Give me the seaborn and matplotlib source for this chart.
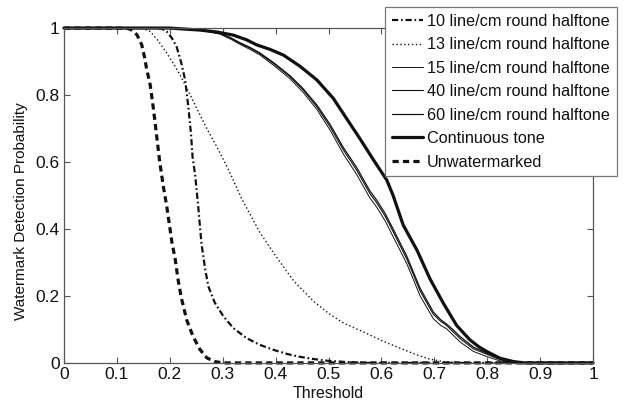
import matplotlib
matplotlib.use('Agg')
import matplotlib.pyplot as plt
import seaborn as sns
from matplotlib.ticker import FormatStrFormatter, MultipleLocator

# Data
unwm_x = [0.0, 0.10, 0.120, 0.128, 0.138, 0.147, 0.152, 0.156, 0.163, 0.169, 0.175, 0.181, 0.188,
          0.194, 0.200, 0.204, 0.210, 0.216, 0.222, 0.232, 0.244, 0.257, 0.270, 0.285, 0.300, 1.0]
unwm_y = [1.0, 1.0, 0.999, 0.994, 0.980, 0.950, 0.915, 0.880, 0.830, 0.760, 0.680, 0.600, 0.525,
          0.470, 0.405, 0.360, 0.312, 0.245, 0.193, 0.128, 0.079, 0.040, 0.015, 0.004, 0.0, 0.0]

l10_x = [0.0, 0.17, 0.185, 0.194, 0.204, 0.213, 0.222, 0.229, 0.235, 0.240, 0.243, 0.248, 0.251,
         0.254, 0.257, 0.260, 0.267, 0.273, 0.285, 0.301, 0.320, 0.345, 0.370, 0.396, 0.421,
         0.443, 0.470, 0.493, 0.530, 0.570, 1.0]
l10_y = [1.0, 1.0, 0.998, 0.990, 0.970, 0.944, 0.894, 0.845, 0.765, 0.685, 0.616, 0.560, 0.511,
         0.462, 0.407, 0.355, 0.278, 0.228, 0.180, 0.140, 0.104, 0.074, 0.054, 0.039, 0.027,
         0.019, 0.012, 0.007, 0.003, 0.0, 0.0]

l13_x = [0.0, 0.13, 0.150, 0.163, 0.178, 0.194, 0.210, 0.222, 0.238, 0.254, 0.270, 0.289, 0.310,
         0.336, 0.370, 0.402, 0.434, 0.471, 0.500, 0.525, 0.541, 0.572, 0.604, 0.635, 0.667,
         0.692, 0.720, 0.750, 1.0]
l13_y = [1.0, 1.0, 0.998, 0.990, 0.962, 0.926, 0.886, 0.852, 0.802, 0.750, 0.700, 0.645, 0.580,
         0.490, 0.390, 0.315, 0.245, 0.185, 0.148, 0.122, 0.110, 0.088, 0.064, 0.044, 0.024,
         0.011, 0.003, 0.0, 0.0]

cont_x = [0.0, 0.20, 0.257, 0.290, 0.320, 0.345, 0.364, 0.390, 0.415, 0.446, 0.478, 0.509, 0.534,
          0.560, 0.585, 0.610, 0.622, 0.641, 0.667, 0.692, 0.717, 0.742, 0.767, 0.785, 0.799,
          0.824, 0.849, 0.870, 1.0]
cont_y = [1.0, 1.0, 0.994, 0.988, 0.979, 0.965, 0.950, 0.936, 0.919, 0.886, 0.845, 0.790, 0.730,
          0.668, 0.606, 0.546, 0.500, 0.412, 0.337, 0.250, 0.178, 0.112, 0.069, 0.047, 0.034,
          0.014, 0.004, 0.0, 0.0]

thin_x = [0.0, 0.20, 0.260, 0.295, 0.315, 0.333, 0.352, 0.370, 0.396, 0.427, 0.452, 0.478, 0.503,
          0.528, 0.553, 0.578, 0.591, 0.607, 0.622, 0.648, 0.673, 0.698, 0.712, 0.723, 0.736,
          0.749, 0.774, 0.799, 0.824, 0.850, 1.0]
l40_y = [1.0, 1.0, 0.994, 0.984, 0.970, 0.954, 0.940, 0.924, 0.894, 0.855, 0.815, 0.765, 0.705,
         0.636, 0.576, 0.506, 0.478, 0.438, 0.392, 0.310, 0.215, 0.145, 0.124, 0.112, 0.092,
         0.072, 0.042, 0.026, 0.010, 0.0, 0.0]
l60_y = [1.0, 1.0, 0.994, 0.984, 0.971, 0.956, 0.942, 0.926, 0.897, 0.858, 0.819, 0.770, 0.712,
         0.643, 0.584, 0.514, 0.486, 0.446, 0.400, 0.318, 0.223, 0.152, 0.129, 0.116, 0.098,
         0.078, 0.047, 0.029, 0.012, 0.0, 0.0]
l15_y = [1.0, 1.0, 0.993, 0.982, 0.967, 0.951, 0.936, 0.920, 0.889, 0.849, 0.808, 0.757, 0.695,
         0.624, 0.563, 0.493, 0.465, 0.424, 0.377, 0.296, 0.200, 0.132, 0.112, 0.102, 0.082,
         0.062, 0.034, 0.019, 0.006, 0.0, 0.0]

labels = ['10 line/cm round halftone', '13 line/cm round halftone', '15 line/cm round halftone',
          '40 line/cm round halftone', '60 line/cm round halftone', 'Continuous tone', 'Unwatermarked']

sns.set_style('ticks')
plt.rcParams['font.family'] = ['Liberation Sans', 'DejaVu Sans']
plt.rcParams['lines.scale_dashes'] = False

fig = plt.figure(figsize=(6.27, 4.01), dpi=100)
ax = fig.add_axes([0.102, 0.095, 0.844, 0.835])

ink = '#111111'
series = [
    (l10_x, l10_y, labels[0], 1.6, (0, (4.5, 2, 1.2, 2))),
    (l13_x, l13_y, labels[1], 1.0, (0, (1, 1.8))),
    (thin_x, l15_y, labels[2], 0.7, '-'),
    (thin_x, l40_y, labels[3], 0.8, '-'),
    (thin_x, l60_y, labels[4], 0.9, '-'),
    (cont_x, cont_y, labels[5], 2.3, '-'),
    (unwm_x, unwm_y, labels[6], 2.3, (0, (4.5, 3))),
]
for xs, ys, lab, lw, ls in series:
    sns.lineplot(x=xs, y=ys, ax=ax, color=ink, linewidth=lw, linestyle=ls,
                 label=lab, estimator=None, sort=False, clip_on=False)

ax.set_xlim(0, 1)
ax.set_ylim(0, 1)
ax.xaxis.set_major_locator(MultipleLocator(0.1))
ax.yaxis.set_major_locator(MultipleLocator(0.2))
ax.xaxis.set_major_formatter(FormatStrFormatter('%g'))
ax.yaxis.set_major_formatter(FormatStrFormatter('%g'))
ax.tick_params(direction='in', top=True, right=True, length=4, width=0.8,
               color='#555555', labelsize=12.5, pad=3, labelcolor=ink)
for s in ax.spines.values():
    s.set_color('#555555')
    s.set_linewidth(0.9)

ax.set_xlabel('Threshold', fontsize=11.5, color=ink, labelpad=3)
ax.set_ylabel('Watermark Detection Probability', fontsize=11, color=ink)
ax.yaxis.set_label_coords(-0.068, 0.452)

leg = ax.legend(loc='upper left', bbox_to_anchor=(0.607, 1.063), fontsize=11.7,
                frameon=True, fancybox=False, edgecolor='#777777', framealpha=1,
                handlelength=1.9, handletextpad=0.25, labelspacing=0.52,
                borderpad=0.42, borderaxespad=0)
leg.get_frame().set_linewidth(0.9)
for t in leg.get_texts():
    t.set_color(ink)

fig.savefig('out.png', dpi=100)
